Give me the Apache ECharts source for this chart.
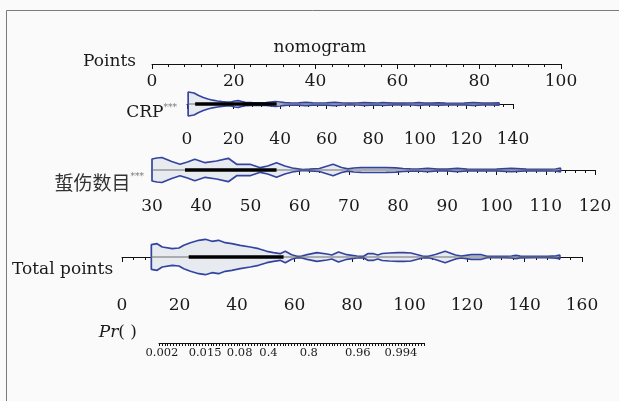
<!DOCTYPE html>
<html>
<head>
<meta charset="utf-8">
<script src="https://cdn.jsdelivr.net/npm/echarts@6/dist/echarts.min.js"></script>
<style>
html,body{margin:0;padding:0;background:#fafafa;}
#chart{width:619px;height:401px;}
</style>
</head>
<body>
<div id="chart"></div>
<script>
// ---------- data ----------
const title = 'nomogram';
const rowLabels = ['Points', 'CRP', '蜇伤数目', 'Total points'];

// CRP distribution (violin half-widths, px-scale units) along CRP values
const crpPos  = [0.5,1,3,5,7,9,11,13,15,17,19,20.5,22,23.5,25,28,31,34,36,38,40,42,45,48,51,54,57,60,63.5,67,70,73,76,79,82,84,86,89,93,97,99.6,102,105,108,111,115,119,123,127,131,134];
const crpHalf = [12,12,11,8.5,6.5,5,3.8,3,2.3,2,2,3,3.3,2.5,1.6,1.3,1.2,1.4,2,2.5,2,1.3,1,1.2,1.6,1.2,1,1.1,1.6,1,0.9,1,1.4,1.2,1,1.4,1.2,0.8,0.8,1,1.3,0.8,0.8,1.2,0.8,0.7,0.8,1.3,0.8,0.8,1.2];
const crpBox  = [0.5, 3.5, 11, 38.5, 134];   // min, q1, median, q3, max

// injury count distribution
const injPos  = [30,31,32,34,35.7,37.2,38.7,40.8,43.1,45.5,47.2,49.9,52,53.5,55.3,57,58.5,60.7,62,64,66.8,68.5,69.8,71,72.5,75,77.5,79.5,81,82.5,84,86,88,90,92,94,97,100,103,106,109,112,113];
const injHalf = [11,12,12.5,8.5,5.7,8,10.7,7.3,9,11.7,5.7,5.7,2.3,4,7.3,4,2,0.4,0.8,1.5,5.7,2.5,1.2,2,2.4,2.5,2.4,2.2,1.5,1.2,1,1.6,0.8,0.8,1.6,0.8,0.7,0.8,1.6,0.8,0.7,1,1.8];
const injBox  = [30, 36.7, 44.8, 55.3, 113];

// total points distribution
const totPos  = [10.2,10.5,12.2,14,17.5,19.8,21.5,23.8,26.7,29,31.3,33.6,35.9,38.2,41.1,44.6,47.5,50.4,52.7,55,56.8,59,60.9,62.5,64.4,67.8,71.3,73,75.3,78.2,81.7,84,85.5,87.5,89,90.5,93,96,98,100.5,102.5,104.5,106.5,109,112.4,116,118,121.5,125,127,132,135.5,137,138.5,143,148,151,152.3];
const totHalf = [12.3,12.3,13.3,10,8.3,9,11.7,14.3,16.7,17.7,15.7,16.7,14.3,13.3,11.7,10,8.3,5.7,4.3,3.3,5.7,2.3,0.7,1,2.3,4.3,3,2,5,2.3,1,0.7,3.3,3.3,2,3.5,4,4.3,4.3,4,2.5,1,0.7,2.5,5.7,2,1,2.3,2.3,0.7,0.6,1,1.7,0.8,0.6,0.6,1.2,2];
const totBox  = [10.2, 23.2, 32.8, 56.2, 152.3];

// axis ranges [min, max, interval]
const pointsRange = [0, 100, 20];
const crpRange    = [0, 140, 20];
const injRange    = [30, 120, 10];
const totRange    = [0, 160, 20];
const prRange     = [13, 105, 1];   // in total points
// probability tick labels and their total-points positions
const prLabels  = ['0.002','0.015','0.08','0.4','0.8','0.96','0.994'];
const prLabelAt = [14, 29, 41, 51, 65, 82, 97];

// ---------- chart ----------
const FONT = 'DejaVu Serif';
const TXT = '#1a1a1a';
const BLUE = '#3343a0';
const FILL = '#e7eaee';

const chart = echarts.init(document.getElementById('chart'), null, {renderer:'canvas'});

function xAx(gi, r, margin, extra) {
  return Object.assign({
    type:'value', gridIndex:gi, min:r[0], max:r[1], interval:r[2], position:'bottom',
    axisLine:{show:true, lineStyle:{color:'#111', width:1}},
    axisTick:{show:true, length:5, lineStyle:{color:'#111', width:1}},
    minorTick:{show:true, splitNumber:5, length:3, lineStyle:{color:'#111', width:1}},
    axisLabel:{show:true, margin:margin, color:TXT, fontFamily:FONT, fontSize:17},
    splitLine:{show:false}, minorSplitLine:{show:false}
  }, extra||{});
}
function yAx(gi, lo, hi) {
  return {type:'value', gridIndex:gi, min:lo, max:hi, show:false};
}
function violin(gi, pos, half, box) {
  const top = [[pos[0],0]], bot = [[pos[0],0]];
  for (let i=0;i<pos.length;i++){ top.push([pos[i], half[i]]); bot.push([pos[i], -half[i]]); }
  top.push([pos[pos.length-1],0]); bot.push([pos[pos.length-1],0]);
  const base = {type:'line', xAxisIndex:gi, yAxisIndex:gi, symbol:'none', smooth:false, silent:true,
    lineStyle:{color:BLUE, width:1.7}, areaStyle:{color:FILL, opacity:1, origin:0}};
  return [
    Object.assign({}, base, {data:top}),
    Object.assign({}, base, {data:bot}),
    {type:'line', xAxisIndex:gi, yAxisIndex:gi, symbol:'none', silent:true,
      lineStyle:{color:'#6e6e6e', width:1}, data:[[box[0],0],[box[4],0]]},
    {type:'line', xAxisIndex:gi, yAxisIndex:gi, symbol:'none', silent:true,
      lineStyle:{color:'#000', width:3.5}, data:[[box[1],0],[box[3],0]]},
    {type:'scatter', xAxisIndex:gi, yAxisIndex:gi, symbol:'circle', symbolSize:6, silent:true,
      itemStyle:{color:'#8a8a8a', borderColor:'#333', borderWidth:1}, data:[[box[2],0]]}
  ];
}

const prMap = {};
prLabelAt.forEach((v,i)=>{prMap[v]=prLabels[i];});

const option = {
  backgroundColor:'#fafafa',
  animation:false,
  grid:[
    {left:152, top:44, width:409, height:20},
    {left:187, top:84, width:326, height:40},
    {left:152, top:150, width:443, height:41},
    {left:122, top:223, width:460, height:68},
    {left:159, top:323, width:265, height:20}
  ],
  xAxis:[
    xAx(0, pointsRange, 9),
    xAx(1, crpRange, 7),
    xAx(2, injRange, 7),
    xAx(3, totRange, 6),
    xAx(4, prRange, 3, {
      minorTick:{show:false},
      axisTick:{show:true, length:3, lineStyle:{color:'#111', width:1}},
      axisLabel:{show:true, margin:4, color:TXT, fontFamily:FONT, fontSize:11.5,
        formatter:(v)=> prMap[Math.round(v)] !== undefined && Math.abs(v-Math.round(v))<1e-6 ? prMap[Math.round(v)] : ''}
    })
  ],
  yAxis:[ yAx(0,0,1), yAx(1,-20,20), yAx(2,-21,20), yAx(3,-34,34), yAx(4,0,1) ],
  series:[].concat(
    violin(1, crpPos, crpHalf, crpBox),
    violin(2, injPos, injHalf, injBox),
    violin(3, totPos, totHalf, totBox)
  ),
  graphic:[
    {type:'polyline', silent:true, shape:{points:[[6.5,401],[6.5,10.5],[619,10.5]]},
      style:{stroke:'#7a7a7a', lineWidth:1, fill:null}},
    {type:'text', x:320, y:48, style:{text:title, fill:TXT, font:'17px "DejaVu Serif"', align:'center', verticalAlign:'middle'}},
    {type:'text', x:136, y:62, style:{text:rowLabels[0], fill:TXT, font:'17px "DejaVu Serif"', align:'right', verticalAlign:'middle'}},
    {type:'text', x:177, y:113, style:{text:'{a|'+rowLabels[1]+'}{s|***}', align:'right', verticalAlign:'middle',
      rich:{a:{fontFamily:FONT, fontSize:17, fill:TXT, color:TXT, lineHeight:20},
            s:{fontFamily:FONT, fontSize:9, fill:'#777', color:'#777', verticalAlign:'top', lineHeight:20}}}},
    {type:'text', x:144, y:183, style:{text:'{a|'+rowLabels[2]+'}{s|***}', align:'right', verticalAlign:'middle',
      rich:{a:{fontFamily:'Noto Sans CJK SC', fontSize:19, fill:'#333', color:'#333', lineHeight:22},
            s:{fontFamily:FONT, fontSize:9, fill:'#777', color:'#777', verticalAlign:'top', lineHeight:22}}}},
    {type:'text', x:12, y:270, style:{text:rowLabels[3], fill:TXT, font:'17px "DejaVu Serif"', align:'left', verticalAlign:'middle'}},
    {type:'text', x:137, y:333, style:{text:'{i|Pr}{a|( )}', align:'right', verticalAlign:'middle',
      rich:{i:{fontFamily:FONT, fontStyle:'italic', fontSize:17, fill:TXT, color:TXT},
            a:{fontFamily:FONT, fontSize:17, fill:TXT, color:TXT}}}}
  ]
};
chart.setOption(option);
</script>
</body>
</html>
